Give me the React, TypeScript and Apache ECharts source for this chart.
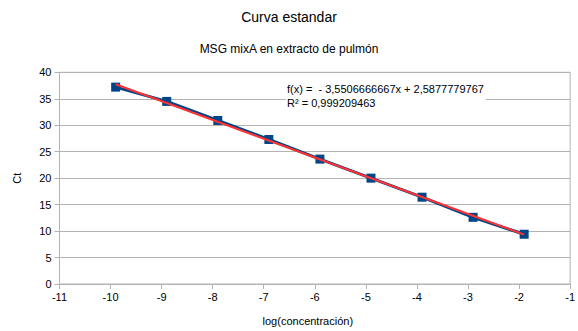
import React, { useEffect, useRef } from "react";
import * as echarts from "echarts";

// log(concentración) of each dilution and its measured Ct
const logConc = [-9.9, -8.9, -7.9, -6.9, -5.9, -4.9, -3.9, -2.9, -1.9];
const ctValues = [37.2, 34.5, 30.9, 27.3, 23.6, 20.0, 16.4, 12.6, 9.4];

// linear trendline as reported by the fit
const slope = -3.5506666667;
const intercept = 2.5877779767;
const rSquared = "0,999209463";
const equationText = "f(x) =  - 3,5506666667x + 2,5877779767";

const xTicks = { min: -11, max: -1, interval: 1 };
const yTicks = { min: 0, max: 40, interval: 5 };

const FONT = "Liberation Sans, Arial, sans-serif";

export default function App() {
  const ref = useRef<HTMLDivElement>(null);

  useEffect(() => {
    if (!ref.current) return;
    const chart = echarts.init(ref.current, null, { renderer: "svg" });

    const points = logConc.map((x, i) => [x, ctValues[i]]);
    const xStart = logConc[0];
    const xEnd = logConc[logConc.length - 1];
    const trend = [
      [xStart, slope * xStart + intercept],
      [xEnd, slope * xEnd + intercept],
    ];

    chart.setOption({
      animation: false,
      backgroundColor: "#ffffff",
      textStyle: { fontFamily: FONT },
      title: [
        {
          text: "Curva estandar",
          left: "center",
          top: 5,
          textStyle: { fontFamily: FONT, fontSize: 14, fontWeight: "normal", color: "#000" },
        },
        {
          text: "MSG mixA en extracto de pulmón",
          left: "center",
          top: 38,
          textStyle: { fontFamily: FONT, fontSize: 12, fontWeight: "normal", color: "#000" },
        },
      ],
      grid: {
        left: 59.5,
        right: 6.5,
        top: 72.3,
        bottom: 46,
        show: true,
        borderColor: "#b3b3b3",
        borderWidth: 1,
      },
      xAxis: {
        type: "value",
        min: xTicks.min,
        max: xTicks.max,
        interval: xTicks.interval,
        name: "log(concentración)",
        nameLocation: "middle",
        nameGap: 31,
        nameTextStyle: { fontFamily: FONT, fontSize: 11, color: "#000", padding: [0, 14, 0, 0] },
        axisLine: { show: true, onZero: false, lineStyle: { color: "#b3b3b3" } },
        axisTick: { show: true, length: 5, lineStyle: { color: "#b3b3b3" } },
        axisLabel: { fontFamily: FONT, fontSize: 11, color: "#000", margin: 7 },
        splitLine: { show: false },
      },
      yAxis: {
        type: "value",
        min: yTicks.min,
        max: yTicks.max,
        interval: yTicks.interval,
        name: "Ct",
        nameLocation: "middle",
        nameGap: 37,
        nameRotate: 90,
        nameTextStyle: { fontFamily: FONT, fontSize: 11, color: "#000" },
        axisLine: { show: true, lineStyle: { color: "#b3b3b3" } },
        axisTick: { show: true, length: 5, lineStyle: { color: "#b3b3b3" } },
        axisLabel: { fontFamily: FONT, fontSize: 11, color: "#000", margin: 8 },
        splitLine: { show: true, lineStyle: { color: "#b3b3b3", width: 1 } },
      },
      series: [
        {
          name: "Ct",
          type: "line",
          data: points,
          symbol: "rect",
          symbolSize: 9,
          itemStyle: { color: "#004586" },
          lineStyle: { color: "#004586", width: 3 },
          z: 2,
        },
        {
          name: "trend",
          type: "line",
          data: trend,
          symbol: "none",
          lineStyle: { color: "#ff3333", width: 2 },
          z: 3,
        },
      ],
      graphic: [
        {
          type: "text",
          left: 286,
          top: 82,
          z: 10,
          style: {
            text: equationText + "\nR² = " + rSquared,
            fontFamily: FONT,
            fontSize: 11,
            lineHeight: 14,
            fill: "#000",
            backgroundColor: "#ffffff",
            padding: [0, 2, 0, 1],
          },
        },
      ],
    });

    return () => chart.dispose();
  }, []);

  return (
    <div
      ref={ref}
      style={{ position: "fixed", left: 0, top: 0, width: 578, height: 331 }}
    />
  );
}
